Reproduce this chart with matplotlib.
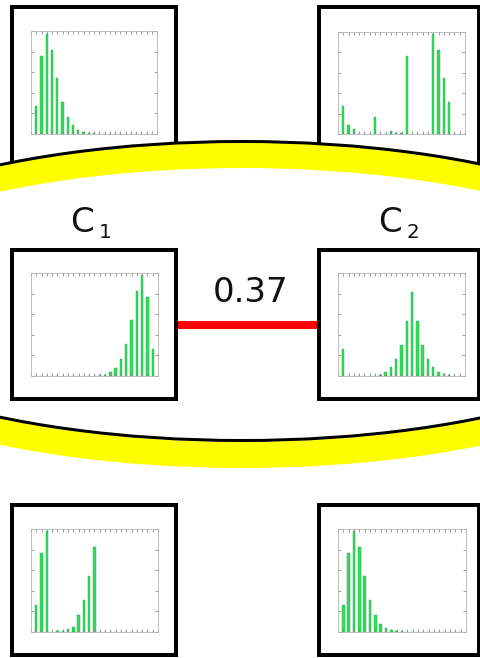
import matplotlib
matplotlib.use("Agg")
import matplotlib.pyplot as plt
from matplotlib.patches import Rectangle, Ellipse

W, H = 481, 658

bins = list(range(1, 24))
# bar heights (fraction of panel height), bins 1..23
h_top_left = [0.268, 0.758, 0.974, 0.816, 0.539, 0.310, 0.165, 0.084, 0.042, 0.023, 0.013, 0.006,
              0.003, 0.002, 0.002, 0.002, 0.002, 0.002, 0.002, 0.002, 0.002, 0.002, 0.002]
h_top_right = [0.270, 0.088, 0.045, 0.002, 0.002, 0.002, 0.169, 0.002, 0.002, 0.026, 0.012, 0.006,
               0.763, 0.002, 0.002, 0.002, 0.002, 0.984, 0.828, 0.545, 0.315, 0.002, 0.002]
h_mid_left = [0.0, 0.0, 0.0, 0.0, 0.0, 0.0, 0.0, 0.0, 0.0, 0.0, 0.0, 0.0,
              0.005, 0.012, 0.036, 0.081, 0.163, 0.306, 0.541, 0.821, 0.977, 0.765, 0.264]
h_mid_right = [0.265, 0.0, 0.0, 0.0, 0.0, 0.0, 0.0, 0.012, 0.036, 0.084, 0.162, 0.304,
               0.537, 0.816, 0.537, 0.304, 0.162, 0.084, 0.036, 0.016, 0.006, 0.003, 0.002]
h_bot_left = [0.266, 0.763, 0.977, 0.003, 0.005, 0.012, 0.026, 0.045, 0.162, 0.312, 0.542, 0.821,
              0.002, 0.002, 0.002, 0.002, 0.002, 0.002, 0.002, 0.002, 0.002, 0.002, 0.002]
h_bot_right = [0.266, 0.763, 0.980, 0.821, 0.539, 0.312, 0.162, 0.081, 0.042, 0.020, 0.010, 0.005,
               0.002, 0.002, 0.002, 0.002, 0.002, 0.002, 0.002, 0.002, 0.002, 0.002, 0.002]

similarity = "0.37"

fig = plt.figure(figsize=(W / 100, H / 100), dpi=100)
ax = fig.add_axes([0, 0, 1, 1])
ax.set_xlim(0, W)
ax.set_ylim(H, 0)
ax.axis("off")

px = 0.72  # points per pixel


def frame(x0, y0, x1, y1, z):
    ax.add_patch(Rectangle((x0, y0), x1 - x0, y1 - y0, facecolor="white",
                           edgecolor="black", lw=4 * px, zorder=z))


# top boxes (partly hidden by the ellipse)
frame(12, 7, 176, 200, 1)
frame(319, 7, 479, 200, 1)

# ellipse band
ax.add_patch(Ellipse((242, 305), 902, 300, facecolor="white", edgecolor="#ffff00",
                     lw=26 * px, zorder=2))
ax.add_patch(Ellipse((242, 291), 902, 299, facecolor="none", edgecolor="black",
                     lw=3 * px, zorder=3))

# middle and bottom boxes
frame(12, 250, 176, 399, 4)
frame(319, 250, 479, 399, 4)
frame(12, 505, 176, 655, 4)
frame(319, 505, 479, 655, 4)

# edge between the two clusters
ax.plot([176, 319], [324.5, 324.5], color="#ff0000", lw=8 * px, zorder=3.5,
        solid_capstyle="butt")

tc = "#111111"
ax.text(250.5, 302, similarity, fontsize=34 * px, color=tc, ha="center", va="baseline", zorder=5)
ax.text(70, 232, "C", fontsize=34 * px, color=tc, ha="left", va="baseline", zorder=5)
ax.text(99, 238, "1", fontsize=20 * px, color=tc, ha="left", va="baseline", zorder=5)
ax.text(378, 232, "C", fontsize=34 * px, color=tc, ha="left", va="baseline", zorder=5)
ax.text(407, 238, "2", fontsize=20 * px, color=tc, ha="left", va="baseline", zorder=5)


def hist(x0, y0, x1, y1, heights):
    a = fig.add_axes([x0 / W, 1 - y1 / H, (x1 - x0) / W, (y1 - y0) / H])
    a.set_facecolor("white")
    a.bar(bins, heights, width=0.45, color="#30e052", edgecolor="#23a85a", lw=0.3)
    a.set_xlim(0, 24)
    a.set_ylim(0, 1)
    a.set_xticks(range(0, 25))
    a.set_yticks([0, 0.2, 0.4, 0.6, 0.8, 1.0])
    a.tick_params(direction="in", length=2, width=0.6, color="#888888",
                  top=True, right=True, labelbottom=False, labelleft=False)
    for s in a.spines.values():
        s.set_color("#b5b5b5")
        s.set_linewidth(0.6)
    return a


hist(31, 31, 157, 134, h_top_left)
hist(338, 32, 465, 134, h_top_right)
hist(31, 273, 158, 376, h_mid_left)
hist(338, 273, 465, 376, h_mid_right)
hist(31, 529, 158, 632, h_bot_left)
hist(338, 529, 466, 632, h_bot_right)

fig.savefig("out.png", dpi=100)
